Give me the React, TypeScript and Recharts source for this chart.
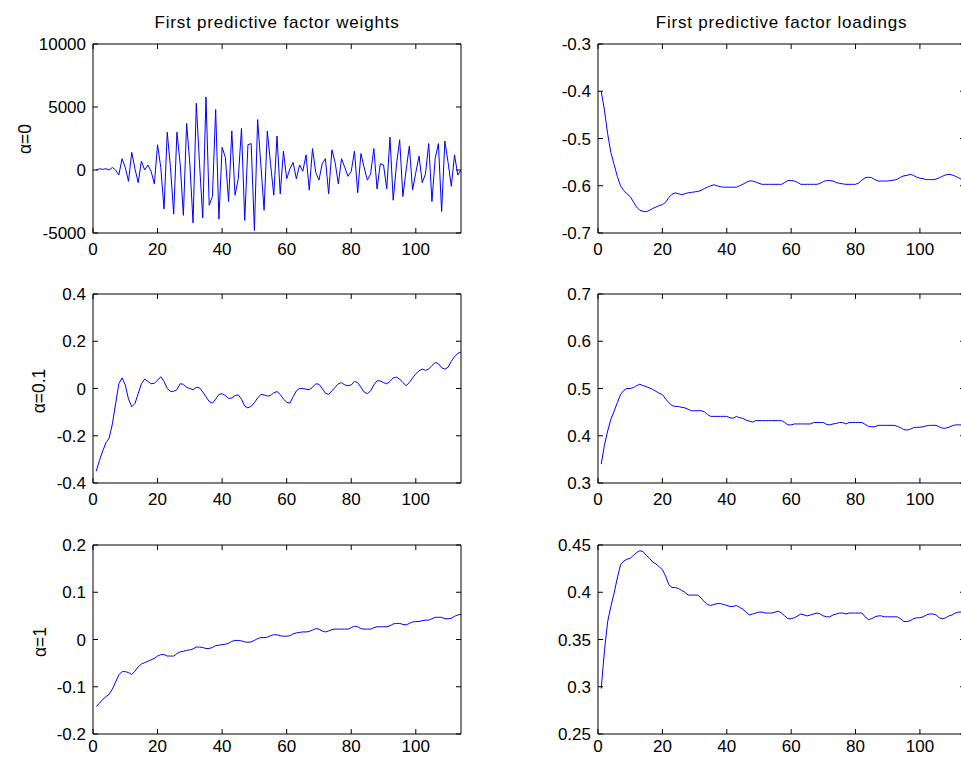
import { LineChart, Line, XAxis, YAxis } from 'recharts';

// sample index 1..114 on the x axis
const X_MAX = 114;
const X_TICKS = [0, 20, 40, 60, 80, 100];

// first predictive factor weights, alpha = 0
const W_A0 = [
  0, 100, 50, 100, 0, 200, 0, -400, 900, 200,
  -900, 1400, 100, -1000, 700, 0, 400, -100, -1100, 2000,
  200, -3100, 3000, 200, -3500, 3000, 500, -3600, 3700, 500,
  -4200, 5300, 500, -3800, 5800, -2800, -2100, 4800, -3900, 1800,
  1000, -2500, 3100, -2000, -700, 3300, -4000, 2000, 2100, -4800,
  4000, 400, -3200, 3100, 500, -2000, 2700, -1900, 1500, -700,
  100, 600, -700, 400, -100, 1200, -1600, 1700, -200, -800,
  500, 900, -1900, 1600, 600, -1100, 900, 200, -500, -100,
  1500, -1800, 1300, 200, -800, -300, 1700, -1500, 500, 400,
  -1500, 2600, -2400, 400, 2400, -2100, 0, 1900, -1600, -200,
  1100, -1000, -300, 2100, -2500, 900, 2100, -3300, 2300, 600,
  -1300, 1200, -400, 0,
];

// first predictive factor loadings, alpha = 0
const L_A0 = [
  -0.4, -0.44, -0.49, -0.53, -0.555, -0.58, -0.6, -0.61, -0.617, -0.623,
  -0.634, -0.645, -0.652, -0.654, -0.655, -0.652, -0.648, -0.645, -0.642, -0.64,
  -0.635, -0.625, -0.618, -0.615, -0.617, -0.619, -0.617, -0.615, -0.614, -0.613,
  -0.612, -0.61, -0.606, -0.603, -0.6, -0.598, -0.6, -0.602, -0.603, -0.603,
  -0.603, -0.603, -0.603, -0.6, -0.597, -0.593, -0.59, -0.59, -0.592, -0.595,
  -0.597, -0.597, -0.597, -0.597, -0.597, -0.597, -0.597, -0.593, -0.589, -0.589,
  -0.59, -0.593, -0.597, -0.597, -0.597, -0.597, -0.597, -0.597, -0.595, -0.591,
  -0.589, -0.589, -0.59, -0.593, -0.595, -0.596, -0.597, -0.597, -0.597, -0.597,
  -0.594, -0.588, -0.583, -0.582, -0.583, -0.587, -0.59, -0.59, -0.59, -0.59,
  -0.589, -0.588, -0.586, -0.582, -0.579, -0.578, -0.576, -0.578, -0.582, -0.584,
  -0.585, -0.587, -0.587, -0.587, -0.586, -0.583, -0.58, -0.577, -0.576, -0.577,
  -0.58, -0.583, -0.587, -0.59,
];

// alpha = 0.1
const W_A01 = [
  -0.35, -0.305, -0.265, -0.23, -0.21, -0.15, -0.065, 0.02, 0.045, 0.015,
  -0.045, -0.077, -0.063, -0.022, 0.02, 0.04, 0.03, 0.02, 0.022, 0.035,
  0.05, 0.03, 0.0, -0.012, -0.012, -0.005, 0.02, 0.018, 0.005, 0.0,
  -0.005, 0.005, 0.003, -0.015, -0.035, -0.055, -0.062, -0.045, -0.025, -0.022,
  -0.03, -0.042, -0.04, -0.03, -0.027, -0.045, -0.075, -0.082, -0.075, -0.06,
  -0.04, -0.025, -0.027, -0.032, -0.03, -0.018, -0.013, -0.025, -0.045, -0.058,
  -0.062, -0.035, -0.01, 0.0, 0.0, -0.003, -0.005, 0.005, 0.02, 0.018,
  0.0, -0.02, -0.025, -0.01, 0.005, 0.02, 0.025, 0.015, 0.012, 0.015,
  0.03, 0.025, 0.005, -0.015, -0.022, -0.01, 0.015, 0.033, 0.032, 0.025,
  0.02, 0.03, 0.045, 0.048, 0.04, 0.025, 0.012, 0.025, 0.045, 0.062,
  0.075, 0.082, 0.077, 0.082, 0.097, 0.11, 0.105, 0.088, 0.082, 0.09,
  0.115, 0.135, 0.148, 0.155,
];

const L_A01 = [
  0.34, 0.38, 0.41, 0.435, 0.452, 0.47, 0.487, 0.496, 0.5, 0.5,
  0.502, 0.506, 0.509, 0.506, 0.504, 0.501, 0.498, 0.494, 0.49, 0.487,
  0.478, 0.47, 0.464, 0.462, 0.462, 0.46, 0.459, 0.456, 0.453, 0.453,
  0.453, 0.453, 0.451, 0.445, 0.441, 0.441, 0.441, 0.441, 0.441, 0.441,
  0.438, 0.437, 0.441, 0.438, 0.437, 0.433, 0.431, 0.429, 0.432, 0.432,
  0.432, 0.432, 0.432, 0.432, 0.432, 0.432, 0.432, 0.428, 0.423, 0.423,
  0.425, 0.425, 0.425, 0.425, 0.425, 0.425, 0.428, 0.428, 0.428, 0.428,
  0.424, 0.423, 0.425, 0.426, 0.428, 0.428, 0.425, 0.428, 0.428, 0.428,
  0.428, 0.428, 0.424, 0.42, 0.419, 0.419, 0.422, 0.422, 0.422, 0.422,
  0.422, 0.422, 0.42, 0.417, 0.413, 0.412, 0.414, 0.417, 0.418, 0.418,
  0.419, 0.421, 0.422, 0.422, 0.422, 0.419, 0.416, 0.416, 0.418, 0.421,
  0.423, 0.423, 0.423, 0.423,
];

// alpha = 1
const W_A1 = [
  -0.142, -0.135, -0.127, -0.121, -0.116, -0.105, -0.09, -0.075, -0.068, -0.068,
  -0.07, -0.074, -0.067, -0.058, -0.052, -0.049, -0.046, -0.043, -0.04, -0.035,
  -0.032, -0.032, -0.035, -0.035, -0.035, -0.03, -0.026, -0.025, -0.023, -0.022,
  -0.02, -0.016, -0.016, -0.017, -0.019, -0.019, -0.017, -0.013, -0.012, -0.011,
  -0.01, -0.008, -0.004, -0.002, -0.002, -0.003, -0.005, -0.006, -0.005, -0.002,
  0.002, 0.004, 0.004, 0.005, 0.008, 0.01, 0.01, 0.008, 0.007, 0.007,
  0.008, 0.012, 0.014, 0.015, 0.016, 0.016, 0.017, 0.02, 0.023, 0.022,
  0.018, 0.016, 0.018, 0.021, 0.022, 0.022, 0.022, 0.022, 0.022, 0.025,
  0.028, 0.027, 0.023, 0.022, 0.022, 0.022, 0.025, 0.027, 0.027, 0.027,
  0.027, 0.029, 0.033, 0.034, 0.034, 0.032, 0.031, 0.034, 0.037, 0.038,
  0.038, 0.04, 0.041, 0.041, 0.044, 0.047, 0.047, 0.047, 0.044, 0.044,
  0.045, 0.049, 0.052, 0.053,
];

const L_A1 = [
  0.298, 0.338, 0.369, 0.385, 0.399, 0.415, 0.429, 0.433, 0.435, 0.436,
  0.439, 0.442, 0.444, 0.443, 0.439, 0.436, 0.432, 0.43, 0.427, 0.424,
  0.417, 0.408, 0.405, 0.405, 0.404, 0.402, 0.4, 0.397, 0.397, 0.397,
  0.397, 0.394, 0.39, 0.387, 0.386, 0.387, 0.388, 0.388, 0.387, 0.386,
  0.385, 0.385, 0.386, 0.384, 0.382, 0.379, 0.376, 0.377, 0.378, 0.379,
  0.379, 0.378, 0.378, 0.378, 0.379, 0.38, 0.378, 0.375, 0.372, 0.372,
  0.373, 0.375, 0.377, 0.376, 0.375, 0.376, 0.377, 0.378, 0.377, 0.375,
  0.374, 0.374, 0.376, 0.377, 0.378, 0.378, 0.377, 0.378, 0.378, 0.378,
  0.378, 0.378, 0.374, 0.371, 0.372, 0.374, 0.375, 0.375, 0.374, 0.374,
  0.374, 0.374, 0.374, 0.372, 0.369, 0.369, 0.37, 0.372, 0.373, 0.373,
  0.374, 0.376, 0.377, 0.377, 0.376, 0.373, 0.372, 0.373, 0.375, 0.376,
  0.378, 0.379, 0.379, 0.379,
];

const TICKS_W0 = [-5000, 0, 5000, 10000];
const TICKS_L0 = [-0.7, -0.6, -0.5, -0.4, -0.3];
const TICKS_W01 = [-0.4, -0.2, 0, 0.2, 0.4];
const TICKS_L01 = [0.3, 0.4, 0.5, 0.6, 0.7];
const TICKS_W1 = [-0.2, -0.1, 0, 0.1, 0.2];
const TICKS_L1 = [0.25, 0.3, 0.35, 0.4, 0.45];

const FONT = '"Liberation Sans", Arial, Helvetica, sans-serif';
const PLOT_H = 189;
const COL_X = [93, 598];
const COL_W = [368, 367];
const ROW_Y = [44, 294, 545];

const tickStyle = { fill: '#000', fontSize: 17 };

function Panel({ values, ticks, left, top, width, xGap = 15 }: {
  values: number[]; ticks: number[]; left: number; top: number; width: number; xGap?: number;
}) {
  const data = values.map((v, i) => ({ x: i + 1, v }));
  const L = 60, R = 10, T = 10, B = 30;
  const domain: [number, number] = [ticks[0], ticks[ticks.length - 1]];
  return (
    <div style={{ position: 'absolute', left: left - L, top: top - T }}>
      <LineChart
        width={width + L + R}
        height={PLOT_H + T + B}
        data={data}
        margin={{ top: 0, right: 0, bottom: 0, left: 0 }}
      >
        <XAxis
          dataKey="x" type="number" domain={[0, X_MAX]} ticks={X_TICKS}
          allowDataOverflow interval={0} height={B}
          tickSize={-5} tickMargin={xGap} stroke="#000" tick={tickStyle}
        />
        <XAxis
          xAxisId="top" orientation="top" dataKey="x" type="number"
          domain={[0, X_MAX]} ticks={X_TICKS} allowDataOverflow interval={0}
          height={T} tickSize={-5} tickFormatter={() => ''} stroke="#000"
        />
        <YAxis
          type="number" domain={domain} ticks={ticks} allowDataOverflow
          interval={0} width={L} tickSize={-5} tickMargin={12}
          stroke="#000" tick={tickStyle}
        />
        <YAxis
          yAxisId="right" orientation="right" type="number" domain={domain}
          ticks={ticks} allowDataOverflow interval={0} width={R}
          tickSize={-5} tickFormatter={() => ''} stroke="#000"
        />
        <Line
          type="linear" dataKey="v" stroke="#0000ff" strokeWidth={1}
          dot={false} activeDot={false} isAnimationActive={false}
        />
      </LineChart>
    </div>
  );
}

function YLabel({ text, x, y }: { text: string; x: number; y: number }) {
  return (
    <div
      style={{
        position: 'absolute', left: x, top: y, fontSize: 17.5, lineHeight: 1,
        whiteSpace: 'nowrap', transform: 'translate(-50%, -50%) rotate(-90deg)',
      }}
    >
      {text}
    </div>
  );
}

export default function App() {
  const mid = (c: number) => COL_X[c] + COL_W[c] / 2;
  return (
    <div
      style={{
        position: 'fixed', left: 0, top: 0, width: 961, height: 758,
        overflow: 'hidden', background: '#fff', fontFamily: FONT, color: '#000',
      }}
    >
      <div style={{ position: 'absolute', left: mid(0), top: 13, transform: 'translateX(-50%)', fontSize: 17, letterSpacing: 0.8, lineHeight: '20px', whiteSpace: 'nowrap' }}>
        First predictive factor weights
      </div>
      <div style={{ position: 'absolute', left: mid(1), top: 13, transform: 'translateX(-50%)', fontSize: 17, letterSpacing: 0.8, lineHeight: '20px', whiteSpace: 'nowrap' }}>
        First predictive factor loadings
      </div>

      <YLabel text="α=0" x={26} y={ROW_Y[0] + PLOT_H / 2} />
      <YLabel text="α=0.1" x={40} y={ROW_Y[1] + PLOT_H / 2 + 2} />
      <YLabel text="α=1" x={41} y={ROW_Y[2] + PLOT_H / 2 + 2} />

      <Panel values={W_A0} ticks={TICKS_W0} left={COL_X[0]} top={ROW_Y[0]} width={COL_W[0]} />
      <Panel values={L_A0} ticks={TICKS_L0} left={COL_X[1]} top={ROW_Y[0]} width={COL_W[1]} />
      <Panel values={W_A01} ticks={TICKS_W01} left={COL_X[0]} top={ROW_Y[1]} width={COL_W[0]} />
      <Panel values={L_A01} ticks={TICKS_L01} left={COL_X[1]} top={ROW_Y[1]} width={COL_W[1]} />
      <Panel values={W_A1} ticks={TICKS_W1} left={COL_X[0]} top={ROW_Y[2]} width={COL_W[0]} xGap={11} />
      <Panel values={L_A1} ticks={TICKS_L1} left={COL_X[1]} top={ROW_Y[2]} width={COL_W[1]} xGap={11} />
    </div>
  );
}
